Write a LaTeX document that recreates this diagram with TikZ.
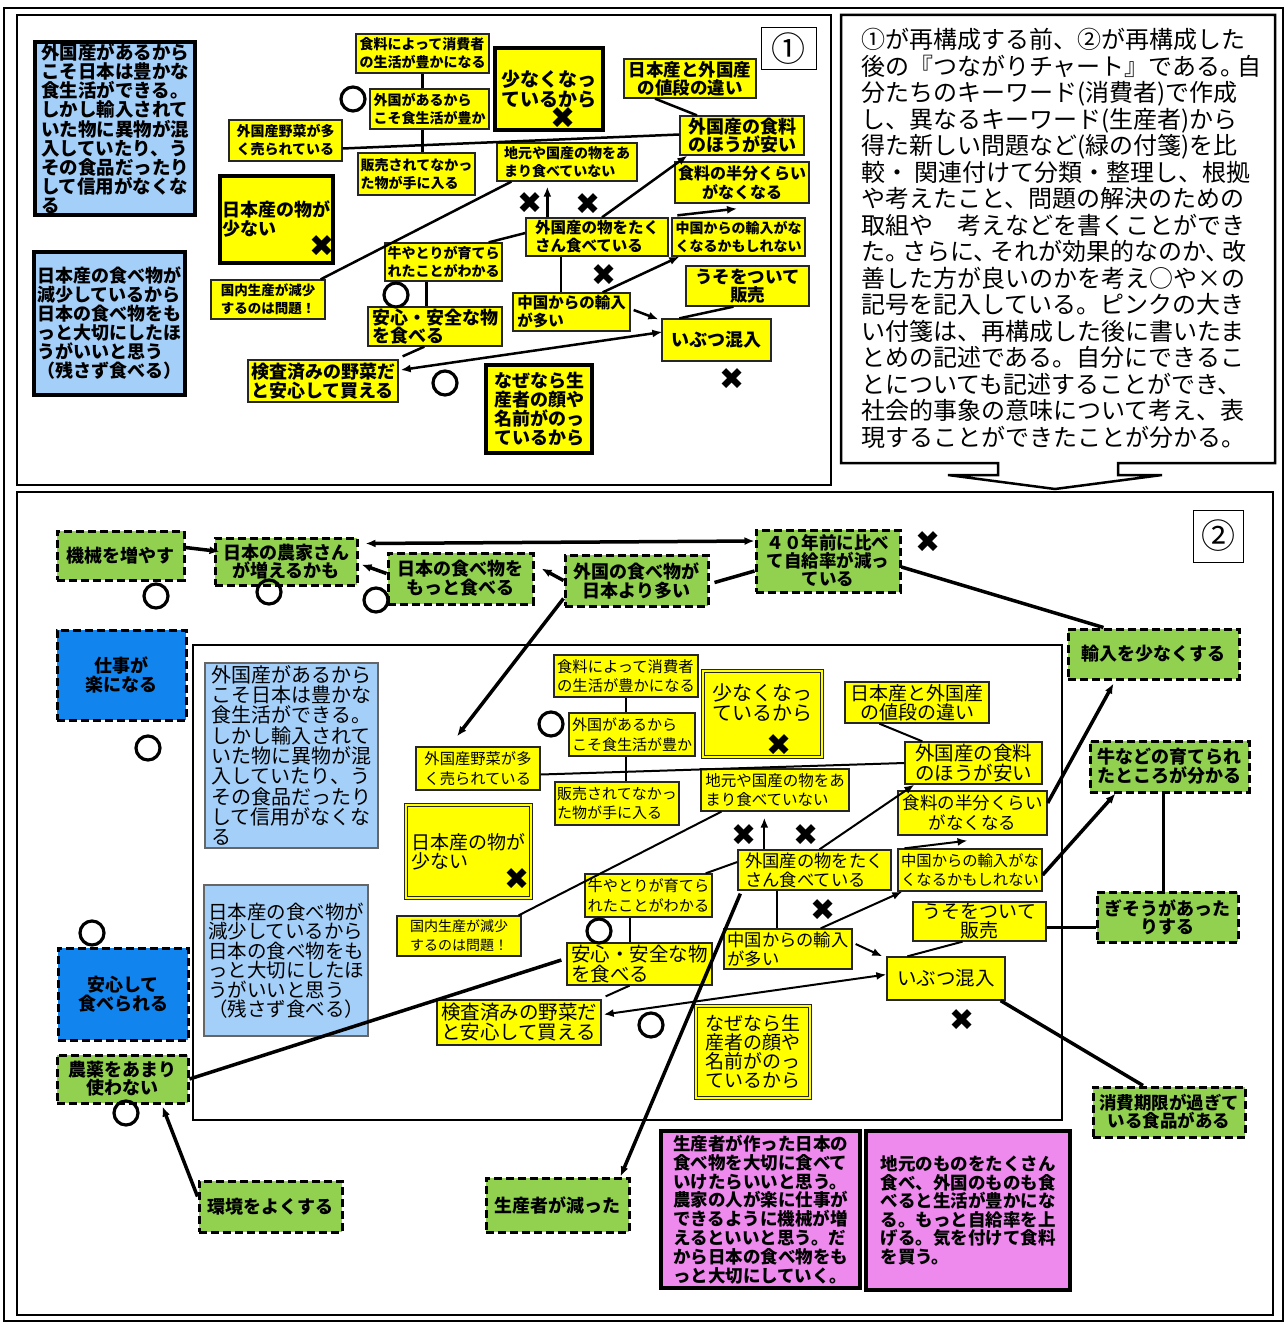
\documentclass[tikz,border=0pt]{standalone}
\usepackage{fontspec}
\setmainfont{Noto Sans CJK JP}
\newfontfamily\dv{DejaVu Sans}
\usetikzlibrary{arrows.meta}
\definecolor{ylc}{HTML}{FFFF00}
\definecolor{lbc}{HTML}{A4CFF8}
\definecolor{gnc}{HTML}{92D050}
\definecolor{dbc}{HTML}{1284EE}
\definecolor{pkc}{HTML}{EE8AEE}
\newcommand\fz[2]{\fontsize{#1}{#2}\selectfont}
\newcommand\cardbox[8]{\node[#2,minimum width={#5pt-#3pt},minimum height={#6pt-#4pt},font={#7}] (#1) at ({(#3+#5)/2},{(#4+#6)/2}) {#8};}
\newcommand\mkO[3]{\node[ocirc] (#1) at (#2,#3) {};}
\newcommand\mkX[3]{\node[xmark] (#1) at (#2,#3) {✖};}
\tikzset{
 bxb/.style={rectangle,inner sep=1pt,align=left},
 ylw/.style={bxb,fill=ylc,draw=black!85,line width=1.3pt},
 ylwT/.style={bxb,fill=ylc,draw=black,line width=4pt},
 ylwD/.style={bxb,fill=ylc,draw=black!85,double=ylc,double distance=2pt,line width=1pt},
 blT/.style={bxb,fill=lbc,draw=black,line width=4pt},
 blM/.style={bxb,fill=lbc,draw=black!60,line width=2pt},
 grn/.style={bxb,align=center,fill=gnc,draw=black,line width=3pt,dash pattern=on 8pt off 4pt},
 dbl/.style={grn,fill=dbc},
 pnk/.style={bxb,fill=pkc,draw=black,line width=4.5pt},
 tbox/.style={bxb,align=center,fill=white,draw=black,line width=1pt},
 ocirc/.style={circle,draw=black,line width=3.2pt,minimum size=24pt,inner sep=0pt},
 xmark/.style={inner sep=0pt,font={\dv\fz{30}{30}}},
 ln/.style={line width=2.5pt},
 lnT/.style={line width=3.5pt},
 lnM/.style={line width=2pt},
 arr/.style={-{Latex[length=10pt,width=8pt]}},
 darr/.style={{Latex[length=10pt,width=8pt]}-{Latex[length=10pt,width=8pt]}},
 frm/.style={line width=1.5pt},
}
\begin{document}
\begin{tikzpicture}[x=1pt,y=-1pt]
\useasboundingbox (0,0) rectangle (1285,1322);
\fill[white] (0,0) rectangle (1285,1322);
% frames
\draw[frm] (4,8) rectangle (1283,1321);
\draw[frm] (17,15) rectangle (831,485);
\draw[frm] (17,492) rectangle (1273,1315);
\draw[frm] (193,645) rectangle (1062,1120);
\draw[line width=2.5pt,fill=white] (841,15) -- (1275,15) -- (1275,463) -- (1118,463) -- (1118,475) -- (1162,475) -- (1055,489) -- (948,475) -- (998,475) -- (998,463) -- (841,463) -- cycle;
\node[anchor=north west,align=left,inner sep=0pt,font=\fz{24}{26.5}] (rt) at (861,28) {①が再構成する前、②が再構成した\\後の『つながりチャート』である。\kern-0.3em 自\\分たちのキーワード(消費者)で作成\\し、異なるキーワード(生産者)から\\得た新しい問題など(緑の付箋)を比\\較・ 関連付けて分類・整理し、根拠\\や考えたこと、問題の解決のための\\取組や　考えなどを書くことができ\\た。\kern-0.3em さらに、\kern-0.3em それが効果的なのか、\kern-0.3em 改\\善した方が良いのかを考え○や×の\\記号を記入している。ピンクの大き\\い付箋は、再構成した後に書いたま\\とめの記述である。自分にできるこ\\とについても記述することができ、\\社会的事象の意味について考え、表\\現することができたことが分かる。};

% ---------- panel 1 ----------
\cardbox{a1}{blT}{35}{42}{195}{215}{\fz{18.5}{19.2}\bfseries}{外国産があるから\\こそ日本は豊かな\\食生活ができる。\\しかし輸入されて\\いた物に異物が混\\入していたり、う\\その食品だったり\\して信用がなくな\\る}
\cardbox{a2}{blT}{34}{252}{185}{395}{\fz{18}{19}\bfseries}{日本産の食べ物が\\減少しているから\\日本の食べ物をも\\っと大切にしたほ\\うがいいと思う\\（残さず食べる）}
\cardbox{a3}{ylwT}{220}{176}{333}{263}{\fz{18}{19}\bfseries}{日本産の物が\\少ない}
\cardbox{a4}{ylw}{356}{34}{489}{73}{\fz{14}{18}\bfseries}{食料によって消費者\\の生活が豊かになる}
\cardbox{a5}{ylw}{370}{89}{489}{129}{\fz{14}{18}\bfseries}{外国があるから\\こそ食生活が豊か}
\cardbox{a6}{ylw}{229}{120}{342}{161}{\fz{14}{18}\bfseries}{外国産野菜が多\\く売られている}
\cardbox{a7}{ylw}{358}{153}{475}{195}{\fz{14}{18}\bfseries}{販売されてなかっ\\た物が手に入る}
\cardbox{a8}{ylwT,align=center}{495}{48}{603}{130}{\fz{19}{20}\bfseries}{少なくなっ\\ているから}
\cardbox{a9}{ylw,align=center}{624}{59}{756}{98}{\fz{17.5}{18}\bfseries}{日本産と外国産\\の値段の違い}
\cardbox{a10}{tbox}{761}{28}{816}{70}{\fz{34}{34}}{①}
\cardbox{a11}{ylw,align=center}{680}{116}{804}{155}{\fz{18}{18}\bfseries}{外国産の食料\\のほうが安い}
\cardbox{a12}{ylw}{497}{143}{637}{181}{\fz{14}{18}\bfseries}{地元や国産の物をあ\\まり食べていない}
\cardbox{a13}{ylw,align=center}{675}{162}{809}{203}{\fz{16}{19}\bfseries}{食料の半分くらい\\がなくなる}
\cardbox{a14}{ylw}{526}{218}{668}{256}{\fz{15.5}{18}\bfseries}{外国産の物をたく\\さん食べている}
\cardbox{a15}{ylw}{672}{218}{805}{256}{\fz{14}{18}\bfseries}{中国からの輸入がな\\くなるかもしれない}
\cardbox{a16}{ylw}{385}{243}{502}{281}{\fz{14}{18}\bfseries}{牛やとりが育てら\\れたことがわかる}
\cardbox{a17}{ylw}{211}{280}{325}{319}{\fz{13.5}{18}\bfseries}{国内生産が減少\\するのは問題！}
\cardbox{a18}{ylw,align=center}{686}{266}{809}{306}{\fz{17.5}{18}\bfseries}{うそをついて\\販売}
\cardbox{a19}{ylw}{513}{293}{630}{331}{\fz{15.5}{18}\bfseries}{中国からの輸入\\が多い}
\cardbox{a20}{ylw}{368}{307}{502}{346}{\fz{18}{18.5}\bfseries}{安心・安全な物\\を食べる}
\cardbox{a21}{ylw,align=center}{662}{319}{771}{361}{\fz{18}{18}\bfseries}{いぶつ混入}
\cardbox{a22}{ylw}{248}{360}{398}{402}{\fz{18}{19}\bfseries}{検査済みの野菜だ\\と安心して買える}
\cardbox{a23}{ylwT}{486}{365}{592}{453}{\fz{18}{19}\bfseries}{なぜなら生\\産者の顔や\\名前がのっ\\ているから}
\mkO{oa1}{353}{99}
\mkO{oa2}{396}{295}
\mkO{oa3}{445}{383}
\mkX{xa1}{563}{118}
\mkX{xa2}{322}{246}
\mkX{xa3}{530}{203}
\mkX{xa4}{588}{204}
\mkX{xa5}{604}{275}
\mkX{xa6}{732}{379}
% panel 1 connectors
\draw[ln] (a4.south) -- (a4.south |- a5.north);
\draw[ln] (a4.south |- a5.south) -- (a4.south |- a7.north);
\draw[ln] ([yshift=-8pt]a6.east) -- ([yshift=1pt]a11.west);
\draw[ln] ([xshift=-35pt]a9.south) -- ([xshift=-45pt]a11.north);
\draw[ln] ([xshift=-5pt]a17.north east) -- ([xshift=15pt]a12.south west);
\draw[ln] ([yshift=4pt]a14.west) -- ([xshift=-14pt]a16.north east);
\draw[ln,arr,shorten >=5pt] ([xshift=22pt]a14.north west) -- ([xshift=22pt]a14.north west |- a12.south);
\draw[ln,arr] ([xshift=5pt]a14.north) -- ([xshift=8pt]a11.south west);
\draw[ln,arr] ([xshift=6pt,yshift=2pt]a15.north west) -- ([xshift=-5pt,yshift=-5pt]a13.south);
\draw[ln] ([xshift=-36pt]a14.south) -- ([xshift=-36pt]a14.south |- a19.north);
\draw[ln,arr] ([xshift=-28pt]a19.north east) -- ([xshift=8pt]a15.south west);
\draw[ln,arr] ([xshift=3pt,yshift=2pt]a19.east) -- ([xshift=-3pt,yshift=-1pt]a21.north west);
\draw[ln] ([xshift=-14pt]a18.south) -- ([xshift=18pt]a21.north west);
\draw[ln,darr] ([xshift=2pt,yshift=11pt]a22.east) -- ([xshift=1pt,yshift=8pt]a21.west);
\draw[ln] ([xshift=57pt]a20.south west) -- ([xshift=4pt,yshift=3pt]a22.north east);
\draw[ln] ([xshift=42pt]a16.south west) -- ([xshift=42pt]a16.south west |- a20.north);

% ---------- panel 2 ----------
\cardbox{b1}{grn}{57}{531}{184}{580}{\fz{18}{18}\bfseries}{機械を増やす}
\cardbox{b2}{grn}{215}{538}{357}{585}{\fz{18}{18}\bfseries}{日本の農家さん\\が増えるかも}
\cardbox{b3}{grn}{388}{553}{533}{604}{\fz{18}{19}\bfseries}{日本の食べ物を\\もっと食べる}
\cardbox{b4}{grn}{565}{555}{708}{606}{\fz{18}{19}\bfseries}{外国の食べ物が\\日本より多い}
\cardbox{b5}{grn}{756}{530}{900}{592}{\fz{17.5}{18}\bfseries}{４０年前に比べ\\て自給率が減っ\\ている}
\cardbox{b6}{tbox}{1193}{510}{1243}{562}{\fz{34}{34}}{②}
\cardbox{b7}{grn}{1068}{629}{1239}{679}{\fz{18}{18}\bfseries}{輸入を少なくする}
\cardbox{b8}{grn}{1090}{741}{1249}{792}{\fz{18}{19}\bfseries}{牛などの育てられ\\たところが分かる}
\cardbox{b9}{grn}{1097}{892}{1238}{942}{\fz{18}{18}\bfseries}{ぎそうがあった\\りする}
\cardbox{b10}{grn}{1093}{1087}{1245}{1137}{\fz{17.5}{18}\bfseries}{消費期限が過ぎて\\いる食品がある}
\cardbox{b11}{dbl}{57}{630}{186}{720}{\fz{18}{19}\bfseries}{仕事が\\楽になる}
\cardbox{b12}{dbl}{58}{948}{188}{1040}{\fz{18}{19}\bfseries}{安心して\\食べられる}
\cardbox{b13}{grn}{57}{1055}{188}{1103}{\fz{18}{18}\bfseries}{農薬をあまり\\使わない}
\cardbox{b14}{grn}{199}{1181}{342}{1232}{\fz{18}{18}\bfseries}{環境をよくする}
\cardbox{b15}{grn}{486}{1178}{629}{1232}{\fz{18}{18}\bfseries}{生産者が減った}
\cardbox{b16}{pnk}{661}{1131}{860}{1288}{\fz{17.5}{18.8}\bfseries}{生産者が作った日本の\\食べ物を大切に食べて\\いけたらいいと思う。\\農家の人が楽に仕事が\\できるように機械が増\\えるといいと思う。だ\\から日本の食べ物をも\\っと大切にしていく。}
\cardbox{b17}{pnk}{866}{1131}{1070}{1290}{\fz{17.5}{18.5}\bfseries}{地元のものをたくさん\\食べ、外国のものも食\\べると生活が豊かにな\\る。もっと自給率を上\\げる。気を付けて食料\\を買う。}

\cardbox{c1}{blM}{205}{663}{378}{848}{\fz{20}{20.3}}{外国産があるから\\こそ日本は豊かな\\食生活ができる。\\しかし輸入されて\\いた物に異物が混\\入していたり、う\\その食品だったり\\して信用がなくな\\る}
\cardbox{c2}{blM}{204}{885}{368}{1036}{\fz{19.5}{19.5}}{日本産の食べ物が\\減少しているから\\日本の食べ物をも\\っと大切にしたほ\\うがいいと思う\\（残さず食べる）}
\cardbox{c3}{ylwD}{406}{805}{531}{898}{\fz{19}{19}}{日本産の物が\\少ない}
\cardbox{c4}{ylw}{554}{655}{698}{697}{\fz{15.3}{19.5}}{食料によって消費者\\の生活が豊かになる}
\cardbox{c5}{ylw}{569}{713}{695}{756}{\fz{15}{20}}{外国があるから\\こそ食生活が豊か}
\cardbox{c6}{ylwD,align=center}{703}{671}{822}{757}{\fz{20}{20}}{少なくなっ\\ているから\\[3pt]}
\cardbox{c7}{ylw,align=center}{845}{682}{989}{723}{\fz{19}{19}}{日本産と外国産\\の値段の違い}
\cardbox{c8}{ylw}{416}{747}{540}{790}{\fz{15.3}{19.5}}{外国産野菜が多\\く売られている}
\cardbox{c9}{ylw}{555}{782}{679}{825}{\fz{15}{19.5}}{販売されてなかっ\\た物が手に入る}
\cardbox{c10}{ylw,align=center}{905}{742}{1042}{784}{\fz{19.5}{19.5}}{外国産の食料\\のほうが安い}
\cardbox{c11}{ylw}{701}{769}{849}{811}{\fz{15.5}{19}}{地元や国産の物をあ\\まり食べていない}
\cardbox{c12}{ylw,align=center}{898}{791}{1047}{835}{\fz{17.5}{20}}{食料の半分くらい\\がなくなる}
\cardbox{c13}{ylw}{738}{850}{891}{890}{\fz{17.3}{19}}{外国産の物をたく\\さん食べている}
\cardbox{c14}{ylw}{898}{849}{1042}{891}{\fz{15.3}{19.5}}{中国からの輸入がな\\くなるかもしれない}
\cardbox{c15}{ylw}{585}{874}{712}{917}{\fz{15.2}{19.5}}{牛やとりが育てら\\れたことがわかる}
\cardbox{c16}{ylw}{397}{916}{521}{956}{\fz{14}{19}}{国内生産が減少\\するのは問題！}
\cardbox{c17}{ylw,align=center}{913}{902}{1046}{941}{\fz{19}{19}}{うそをついて\\販売}
\cardbox{c18}{ylw}{724}{929}{852}{969}{\fz{17.3}{19}}{中国からの輸入\\が多い}
\cardbox{c19}{ylw}{567}{943}{712}{985}{\fz{19.5}{20}}{安心・安全な物\\を食べる}
\cardbox{c20}{ylw,align=center}{887}{957}{1005}{1000}{\fz{19.5}{19.5}}{いぶつ混入}
\cardbox{c21}{ylw}{437}{1000}{601}{1045}{\fz{19.5}{20}}{検査済みの野菜だ\\と安心して買える}
\cardbox{c22}{ylwD}{696}{1006}{810}{1098}{\fz{19}{19}}{なぜなら生\\産者の顔や\\名前がのっ\\ているから}

\mkO{ob1}{156}{596}
\mkO{ob2}{269}{592}
\mkO{ob3}{376}{600}
\mkO{ob4}{148}{748}
\mkO{ob5}{92}{933}
\mkO{ob6}{126}{1113}
\mkO{ob7}{599}{931}
\mkO{ob8}{551}{724}
\mkO{ob9}{651}{1025}
\mkX{xb1}{928}{542}
\mkX{xb2}{744}{835}
\mkX{xb3}{806}{835}
\mkX{xb4}{823}{910}
\mkX{xb5}{962}{1020}
\mkX{xb6}{517}{879}
\mkX{xb7}{779}{745}

% panel 2 outer connectors
\draw[lnT,arr] ([yshift=8pt]b1.east) -- ([xshift=6pt,yshift=10pt]b2.west);
\draw[lnT,darr] ([yshift=20pt]b5.west) -- ([xshift=7pt,yshift=18pt]b2.east);
\draw[lnT,arr] ([yshift=5pt]b3.west) -- ([xshift=3pt,yshift=-3pt]b2.east);
\draw[lnT,arr] (b4.west) -- ([xshift=7pt,yshift=10pt]b3.east);
\draw[lnT] ([yshift=-10pt]b5.west) -- ([xshift=5pt,yshift=-2pt]b4.east);
\draw[lnT,arr] ([yshift=9pt]b4.south west) -- ([xshift=-21pt,yshift=10pt]c8.north);
\draw[lnT] ([yshift=-6pt]b5.east) -- ([xshift=37pt]b7.north west);
\draw[lnT,arr] ([yshift=10pt]c12.east) -- ([xshift=47pt,yshift=-3pt]b7.south west);
\draw[lnT,arr] ([yshift=-5pt]c14.east) -- ([xshift=27pt]b8.south west);
\draw[lnT] ([xshift=-6pt]b8.south) -- ([xshift=-6pt]b8.south |- b9.north);
\draw[lnT] ([yshift=-6pt]c17.east) -- ([yshift=-6pt]c17.east -| b9.west);
\draw[lnT] ([xshift=-5pt]c20.south east) -- ([xshift=-26pt]b10.north);
\draw[lnT,arr] ([yshift=-17pt]b14.north west) -- ([xshift=40pt,yshift=-2pt]b13.south);
\draw[lnT] (b13.east) -- ([xshift=-5pt,yshift=4pt]c19.west);
\draw[lnT,arr] ([xshift=3pt,yshift=-3pt]c13.south west) -- ([xshift=-10pt]b15.north east);
% panel 2 inner connectors
\draw[lnM] (c4.south) -- (c4.south |- c5.north);
\draw[lnM] (c4.south |- c5.south) -- (c4.south |- c9.north);
\draw[lnM] ([yshift=-6pt]c8.east) -- (c10.west);
\draw[lnM] ([xshift=35pt]c7.south west) -- ([xshift=18pt]c10.north west);
\draw[lnM] ([xshift=-3pt]c16.north east) -- ([xshift=21pt]c11.south west);
\draw[lnM] ([yshift=8pt]c13.west) -- ([xshift=-7pt]c15.north east);
\draw[lnM,arr,shorten >=6pt] ([xshift=27pt]c13.north west) -- ([xshift=27pt]c13.north west |- c11.south);
\draw[lnM,arr] ([xshift=5pt]c13.north) -- ([xshift=10pt]c10.south west);
\draw[lnM,arr] ([xshift=7pt]c14.north west) -- ([xshift=-5pt,yshift=-5pt]c12.south);
\draw[lnM] ([xshift=40pt]c13.south west) -- ([xshift=40pt]c13.south west |- c18.north);
\draw[lnM,arr] ([xshift=-32pt]c18.north east) -- ([xshift=5pt]c14.south west);
\draw[lnM,arr] ([xshift=3pt,yshift=5pt]c18.east) -- ([xshift=-4pt]c20.north west);
\draw[lnM] ([xshift=-17pt]c17.south) -- ([xshift=21pt]c20.north west);
\draw[lnM,darr] ([xshift=2pt,yshift=8pt]c21.east) -- ([yshift=4pt]c20.west);
\draw[lnM] ([xshift=-10pt]c19.south) -- ([xshift=4pt,yshift=3pt]c21.north east);
\draw[lnM] ([xshift=46pt]c15.south west) -- ([xshift=46pt]c15.south west |- c19.north);
\end{tikzpicture}
\end{document}
